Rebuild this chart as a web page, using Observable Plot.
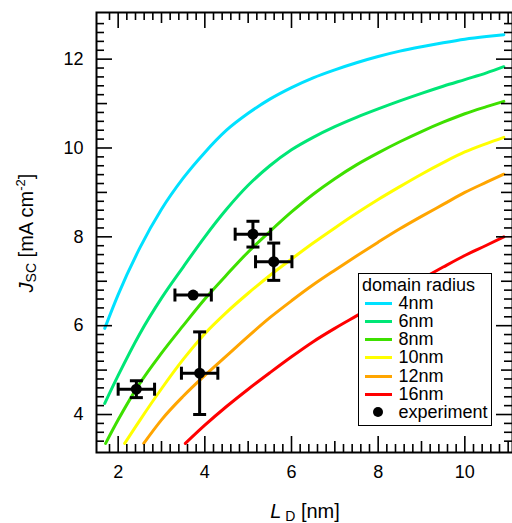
<!DOCTYPE html>
<html><head><meta charset="utf-8">
<script src="https://cdn.jsdelivr.net/npm/d3@7"></script>
<script src="https://cdn.jsdelivr.net/npm/@observablehq/plot@0.6"></script>
<style>
body{margin:0;background:#fff;}
#chart{position:relative;width:512px;height:523px;font-family:"Liberation Sans",Arial,Helvetica,sans-serif;}
#legend{position:absolute;left:358px;top:273px;width:134px;height:153px;box-sizing:border-box;border:1.5px solid #000;background:#fff;font-size:18px;color:#000;padding-top:2px;}
#legend .row{height:18.2px;display:flex;align-items:center;white-space:nowrap;}
#legend .title{padding-left:3px;}
#legend .sw{width:27px;margin-left:5.5px;margin-right:7px;display:flex;align-items:center;justify-content:center;height:10px;}
#legend .ln{width:27px;height:3px;}
#legend .dt{width:10px;height:10px;border-radius:50%;background:#000;}
</style></head><body><div id="chart"></div>
<script>
// ---- data ----
const radii = ["4nm", "6nm", "8nm", "10nm", "12nm", "16nm"];
const colors = ["#00e1ff", "#00e676", "#3ee000", "#ffff00", "#ffa500", "#ff0000"];

const LD_4nm  = [1.69, 2.0, 2.5, 3.0, 3.5, 4.0, 4.5, 5.0, 5.5, 6.0, 6.5, 7.0, 7.5, 8.0, 8.5, 9.0, 9.5, 10.0, 10.5, 10.9];
const JSC_4nm = [5.94, 6.7, 7.75, 8.62, 9.32, 9.9, 10.4, 10.78, 11.1, 11.36, 11.58, 11.76, 11.92, 12.06, 12.18, 12.28, 12.37, 12.45, 12.51, 12.55];

const LD_6nm  = [1.69, 2.0, 2.5, 3.0, 3.5, 4.0, 4.5, 5.0, 5.5, 6.0, 6.5, 7.0, 7.5, 8.0, 8.5, 9.0, 9.5, 10.0, 10.5, 10.9];
const JSC_6nm = [4.25, 4.88, 5.82, 6.62, 7.32, 8.0, 8.62, 9.16, 9.6, 9.96, 10.24, 10.48, 10.69, 10.88, 11.06, 11.23, 11.39, 11.54, 11.69, 11.83];

const LD_8nm  = [1.71, 2.0, 2.5, 3.0, 3.5, 4.0, 4.5, 5.0, 5.5, 6.0, 6.5, 7.0, 7.5, 8.0, 8.5, 9.0, 9.5, 10.0, 10.5, 10.9];
const JSC_8nm = [3.35, 3.88, 4.7, 5.38, 6.0, 6.6, 7.14, 7.66, 8.12, 8.56, 8.96, 9.31, 9.62, 9.89, 10.14, 10.37, 10.58, 10.77, 10.93, 11.05];

const LD_10nm  = [2.15, 2.5, 3.0, 3.5, 4.0, 4.5, 5.0, 5.5, 6.0, 6.5, 7.0, 7.5, 8.0, 8.5, 9.0, 9.5, 10.0, 10.5, 10.9];
const JSC_10nm = [3.35, 3.87, 4.58, 5.24, 5.82, 6.3, 6.73, 7.13, 7.5, 7.86, 8.2, 8.53, 8.84, 9.13, 9.41, 9.67, 9.91, 10.1, 10.24];

const LD_12nm  = [2.59, 3.0, 3.5, 4.0, 4.5, 5.0, 5.5, 6.0, 6.5, 7.0, 7.5, 8.0, 8.5, 9.0, 9.5, 10.0, 10.5, 10.9];
const JSC_12nm = [3.35, 3.88, 4.41, 4.88, 5.32, 5.76, 6.18, 6.56, 6.92, 7.25, 7.57, 7.88, 8.18, 8.46, 8.73, 9.0, 9.23, 9.41];

const LD_16nm  = [3.55, 4.0, 4.5, 5.0, 5.5, 6.0, 6.5, 7.0, 7.5, 8.0, 8.5, 9.0, 9.5, 10.0, 10.5, 10.9];
const JSC_16nm = [3.35, 3.76, 4.18, 4.57, 4.94, 5.3, 5.64, 5.94, 6.22, 6.5, 6.78, 7.05, 7.32, 7.58, 7.81, 8.0];

const expLD     = [2.42, 3.73, 3.88, 5.11, 5.59];
const expLDerr  = [0.42, 0.42, 0.42, 0.41, 0.42];
const expJSC    = [4.57, 6.69, 4.93, 8.06, 7.44];
const expJSCerr = [0.19, 0.0, 0.93, 0.29, 0.42];

const xTickLabels = [2, 4, 6, 8, 10];
const yTickLabels = [4, 6, 8, 10, 12];

// ---- build tables ----
const seriesLD = [LD_4nm, LD_6nm, LD_8nm, LD_10nm, LD_12nm, LD_16nm];
const seriesJSC = [JSC_4nm, JSC_6nm, JSC_8nm, JSC_10nm, JSC_12nm, JSC_16nm];
const curves = radii.flatMap((r, i) => seriesLD[i].map((x, j) => ({radius: r, x, y: seriesJSC[i][j]})));
const exp = expLD.map((x, i) => ({x, ex: expLDerr[i], y: expJSC[i], ey: expJSCerr[i]}));
const expY = exp.filter(d => d.ey > 0);

const W = 512, H = 523, mL = 96, mR = 0, mT = 12, mB = 71;
const innerW = W - mL - mR, innerH = H - mT - mB;
const xDom = [1.5, 11.1], yDom = [3.145, 13.05];

const xMinor = d3.range(18, 111, 2).map(v => v / 10);
const yMinor = d3.range(34, 129, 2).map(v => v / 10);
const isMajor = v => Math.abs(v / 2 - Math.round(v / 2)) < 1e-6;
const isInt = v => Math.abs(v - Math.round(v)) < 1e-6;
const tlen = v => isMajor(v) ? 16 : isInt(v) ? 11 : 8;

const hCap = {draw(ctx, size) { const r = Math.sqrt(size / Math.PI); ctx.moveTo(-r, 0); ctx.lineTo(r, 0); }};
const vCap = {draw(ctx, size) { const r = Math.sqrt(size / Math.PI); ctx.moveTo(0, -r); ctx.lineTo(0, r); }};

const tickMarks = [];
for (const len of [16, 11, 8]) {
  const xs = xMinor.filter(v => tlen(v) === len);
  const ys = yMinor.filter(v => tlen(v) === len);
  tickMarks.push(
    Plot.tickX(xs, {x: d => d, stroke: "#000", strokeWidth: 1.6, insetTop: innerH - len}),
    Plot.tickX(xs, {x: d => d, stroke: "#000", strokeWidth: 1.6, insetBottom: innerH - len}),
    Plot.tickY(ys, {y: d => d, stroke: "#000", strokeWidth: 1.6, insetRight: innerW - len}),
    Plot.tickY(ys, {y: d => d, stroke: "#000", strokeWidth: 1.6, insetLeft: innerW - len})
  );
}

const plot = Plot.plot({
  width: W, height: H,
  marginLeft: mL, marginRight: mR, marginTop: mT, marginBottom: mB,
  style: {fontFamily: '"Liberation Sans", Arial, Helvetica, sans-serif', fontSize: "18px", color: "#000", background: "transparent"},
  x: {domain: xDom},
  y: {domain: yDom},
  color: {domain: radii, range: colors},
  marks: [
    Plot.line(curves, {x: "x", y: "y", z: "radius", stroke: "radius", strokeWidth: 3, curve: "monotone-x", clip: true}),
    Plot.ruleY(exp, {y: "y", x1: d => d.x - d.ex, x2: d => d.x + d.ex, stroke: "#000", strokeWidth: 3}),
    Plot.ruleX(expY, {x: "x", y1: d => d.y - d.ey, y2: d => d.y + d.ey, stroke: "#000", strokeWidth: 3}),
    Plot.dot(exp, {x: d => d.x - d.ex, y: "y", symbol: vCap, r: 6.5, stroke: "#000", strokeWidth: 3, fill: "none"}),
    Plot.dot(exp, {x: d => d.x + d.ex, y: "y", symbol: vCap, r: 6.5, stroke: "#000", strokeWidth: 3, fill: "none"}),
    Plot.dot(expY, {x: "x", y: d => d.y - d.ey, symbol: hCap, r: 6.5, stroke: "#000", strokeWidth: 3, fill: "none"}),
    Plot.dot(expY, {x: "x", y: d => d.y + d.ey, symbol: hCap, r: 6.5, stroke: "#000", strokeWidth: 3, fill: "none"}),
    Plot.dot(exp, {x: "x", y: "y", r: 5.5, fill: "#000", stroke: "none"}),
    ...tickMarks,
    Plot.frame({stroke: "#000", strokeWidth: 2}),
    Plot.axisX(xTickLabels, {tickSize: 0, tickPadding: 13, fontSize: 18, fill: "#000", label: null}),
    Plot.axisY(yTickLabels, {tickSize: 0, tickPadding: 13, fontSize: 18, fill: "#000", label: null})
  ]
});

const chart = document.getElementById("chart");
chart.appendChild(plot);

// axis titles with sub/superscripts
const svg = d3.select(plot);
const yl = svg.append("text")
  .attr("transform", `translate(33,${mT + innerH / 2 + 1}) rotate(-90)`)
  .attr("text-anchor", "middle").attr("font-size", 20).attr("fill", "#000");
yl.append("tspan").attr("font-style", "italic").text("J");
yl.append("tspan").attr("font-size", 14).attr("dy", 3).text("SC");
yl.append("tspan").attr("dy", -3).text(" [mA cm");
yl.append("tspan").attr("font-size", 13).attr("dy", -8).text("-2");
yl.append("tspan").attr("dy", 8).text("]");

const xl = svg.append("text")
  .attr("x", mL + innerW / 2 + 1).attr("y", 518)
  .attr("text-anchor", "middle").attr("font-size", 20).attr("fill", "#000");
xl.append("tspan").attr("font-style", "italic").text("L");
xl.append("tspan").attr("font-size", 14).attr("dy", 3).text(" D");
xl.append("tspan").attr("dy", -3).text(" [nm]");

// legend overlay
const legend = document.createElement("div");
legend.id = "legend";
let html = `<div class="row title">domain radius</div>`;
radii.forEach((r, i) => {
  html += `<div class="row"><span class="sw"><span class="ln" style="background:${colors[i]}"></span></span><span>${r}</span></div>`;
});
html += `<div class="row"><span class="sw"><span class="dt"></span></span><span>experiment</span></div>`;
legend.innerHTML = html;
chart.appendChild(legend);
</script>
</body></html>
